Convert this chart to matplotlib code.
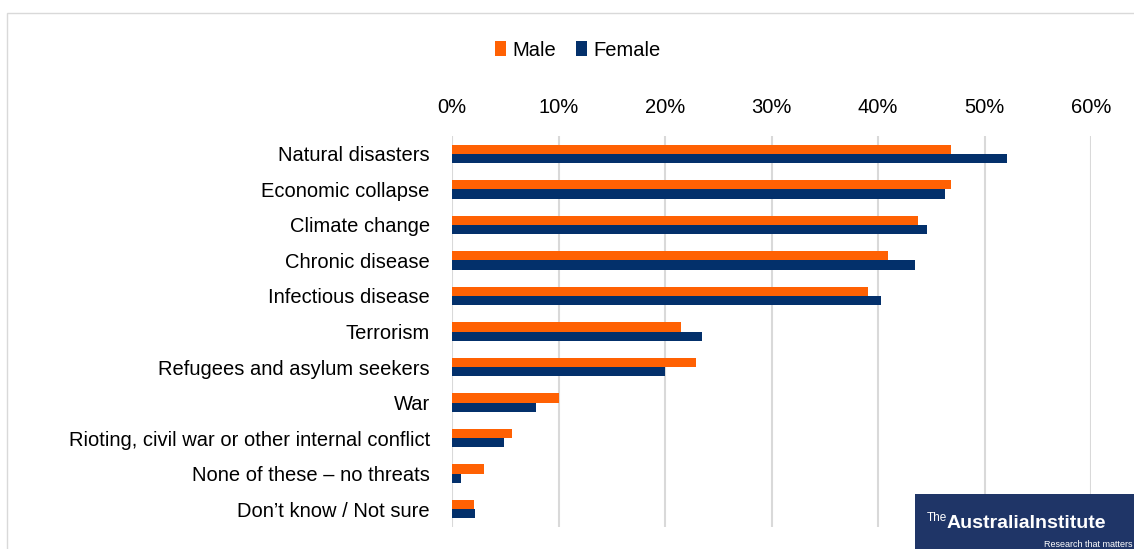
import matplotlib.pyplot as plt
import numpy as np
from matplotlib.patches import Rectangle
from matplotlib.ticker import PercentFormatter

plt.rcParams['font.family'] = ['Liberation Sans', 'DejaVu Sans']

categories = ["Natural disasters", "Economic collapse", "Climate change", "Chronic disease",
              "Infectious disease", "Terrorism", "Refugees and asylum seekers", "War",
              "Rioting, civil war or other internal conflict", "None of these \u2013 no threats",
              "Don\u2019t know / Not sure"]
male = [46.9, 46.9, 43.8, 40.9, 39.1, 21.5, 22.9, 10.0, 5.6, 3.0, 2.1]
female = [52.1, 46.3, 44.6, 43.5, 40.3, 23.5, 20.0, 7.9, 4.9, 0.8, 2.2]

orange = '#FF6103'
navy = '#03306B'

fig = plt.figure(figsize=(11.34, 5.49), dpi=100)
ax = fig.add_axes([452/1134, 1 - 527/549, (1091 - 452)/1134, (527 - 136)/549])

y = np.arange(len(categories))
h = 0.26
ax.barh(y - h/2, male, height=h, color=orange, label='Male', zorder=3)
ax.barh(y + h/2, female, height=h, color=navy, label='Female', zorder=3)

ax.set_ylim(len(categories) - 0.5, -0.5)
ax.set_xlim(0, 60)
ax.set_xticks(np.arange(0, 61, 10))
ax.xaxis.set_major_formatter(PercentFormatter(decimals=0))
ax.xaxis.tick_top()
ax.tick_params(axis='x', length=0, pad=14, labelsize=14.5)
ax.set_yticks(y)
ax.set_yticklabels(categories)
ax.tick_params(axis='y', length=0, pad=16, labelsize=14.5)
ax.grid(axis='x', color='#D9D9D9', linewidth=1.5, zorder=0)
for s in ax.spines.values():
    s.set_visible(False)

fig.legend(loc='center', bbox_to_anchor=(578/1134, 1 - 50/549), ncol=2, frameon=False,
           fontsize=14.5, handlelength=0.55, handleheight=0.75, handletextpad=0.3, columnspacing=1.0)

# chart border
fig.patches.append(Rectangle((7/1134, -0.05), 1.2, 1 - 13/549 + 0.05, transform=fig.transFigure,
                             fill=False, edgecolor='#D9D9D9', linewidth=1))

# logo
fig.patches.append(Rectangle((915/1134, 0), 1, 55/549, transform=fig.transFigure,
                             facecolor='#1F3567', edgecolor='none', zorder=5))
fig.text(927/1134, 1 - 521/549, 'The', color='white', fontsize=8.5, zorder=6, va='baseline')
fig.text(947/1134, 1 - 528/549, 'AustraliaInstitute', color='white', fontsize=14, zorder=6,
         va='baseline', weight='bold')
fig.text(1133/1134, 1 - 547/549, 'Research that matters', color='white', fontsize=6.5, zorder=6,
         va='baseline', ha='right')

fig.savefig('out.png', dpi=100)
